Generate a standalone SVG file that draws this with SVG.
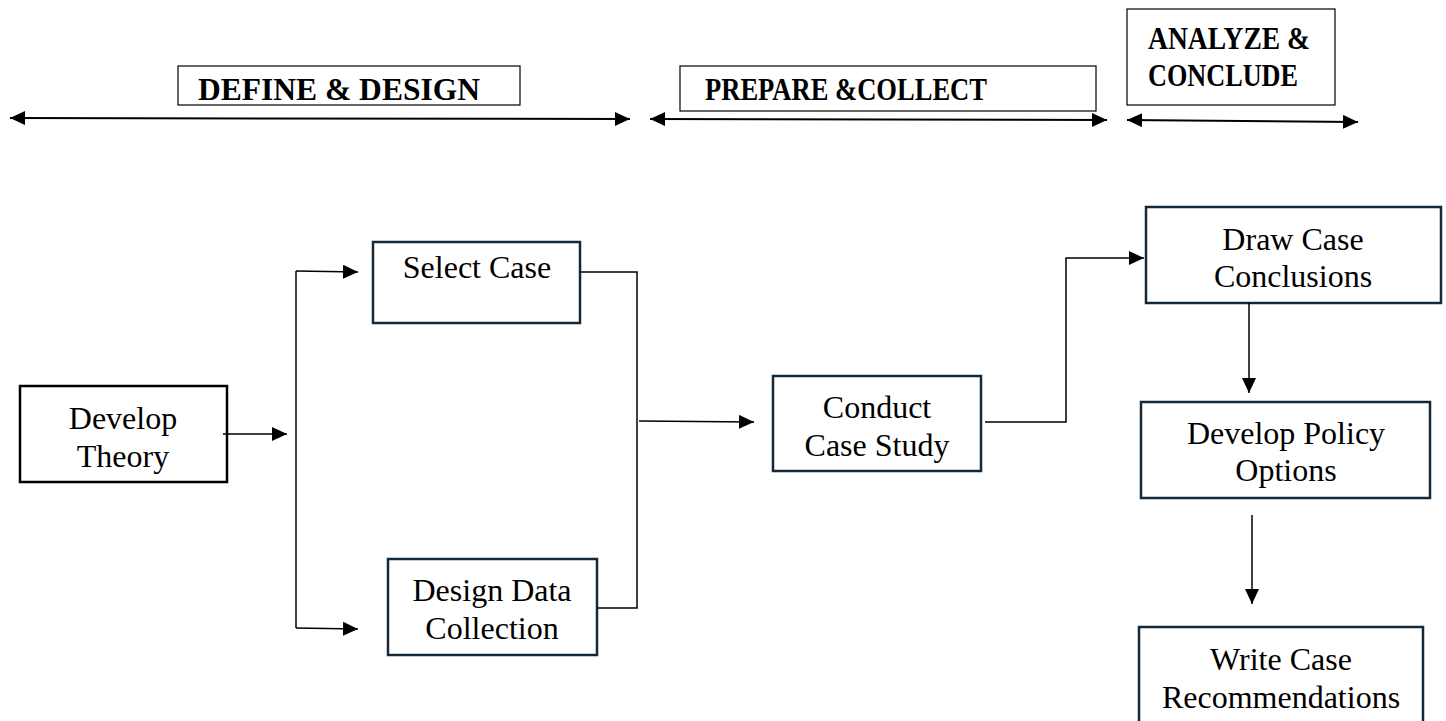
<svg xmlns="http://www.w3.org/2000/svg" width="1446" height="721" viewBox="0 0 1446 721">
<style>
.hbox{fill:#fff;stroke:#000;stroke-width:1.2}
.box{fill:#fff;stroke:#13293a;stroke-width:2.5}
.box0{fill:#fff;stroke:#000;stroke-width:2.5}
.ht{font-family:"Liberation Serif","Times New Roman",serif;font-weight:bold;font-size:31px;fill:#000}
.t{font-family:"Liberation Serif","Times New Roman",serif;font-size:32px;fill:#000;text-anchor:middle}
.c{fill:none;stroke:#000;stroke-width:1.5}
.hc{fill:none;stroke:#000;stroke-width:2}
</style>
<defs>
<marker id="ah" markerUnits="userSpaceOnUse" markerWidth="16" markerHeight="16" refX="15" refY="7" orient="auto">
<path d="M0,0 L15,7 L0,14 Z" fill="#000"/>
</marker>
<marker id="as" markerUnits="userSpaceOnUse" markerWidth="16" markerHeight="16" refX="15" refY="7" orient="auto-start-reverse">
<path d="M0,0 L15,7 L0,14 Z" fill="#000"/>
</marker>
</defs>
<rect width="1446" height="721" fill="#fff"/>

<g id="phase-define">
<rect class="hbox" x="178" y="66" width="342" height="39"/>
<text class="ht" x="339" y="100" text-anchor="middle" textLength="282" lengthAdjust="spacingAndGlyphs">DEFINE &amp; DESIGN</text>
</g>
<g id="phase-prepare">
<rect class="hbox" x="680" y="66" width="416" height="45"/>
<text class="ht" x="846" y="100" text-anchor="middle" textLength="282" lengthAdjust="spacingAndGlyphs">PREPARE &amp;COLLECT</text>
</g>
<g id="phase-analyze">
<rect class="hbox" x="1127" y="9" width="208" height="96"/>
<text class="ht" x="1148" y="49" textLength="162" lengthAdjust="spacingAndGlyphs">ANALYZE &amp;</text>
<text class="ht" x="1148" y="86" textLength="150" lengthAdjust="spacingAndGlyphs">CONCLUDE</text>
</g>

<g id="n-develop-theory">
<rect class="box0" x="20" y="386" width="207" height="96"/>
<text class="t" x="123" y="429">Develop</text>
<text class="t" x="123" y="467">Theory</text>
</g>
<g id="n-select-case">
<rect class="box" x="373" y="242" width="207" height="81"/>
<text class="t" x="477" y="278">Select Case</text>
</g>
<g id="n-design-data">
<rect class="box" x="388" y="559" width="209" height="96"/>
<text class="t" x="492" y="601">Design Data</text>
<text class="t" x="492" y="639">Collection</text>
</g>
<g id="n-conduct">
<rect class="box" x="773" y="376" width="208" height="95"/>
<text class="t" x="877" y="418">Conduct</text>
<text class="t" x="877" y="456">Case Study</text>
</g>
<g id="n-draw">
<rect class="box" x="1146" y="207" width="295" height="96"/>
<text class="t" x="1293" y="250">Draw Case</text>
<text class="t" x="1293" y="287">Conclusions</text>
</g>
<g id="n-policy">
<rect class="box" x="1141" y="402" width="289" height="96"/>
<text class="t" x="1286" y="444">Develop Policy</text>
<text class="t" x="1286" y="481">Options</text>
</g>
<g id="n-write">
<rect class="box" x="1139" y="627" width="284" height="100"/>
<text class="t" x="1281" y="670">Write Case</text>
<text class="t" x="1281" y="708">Recommendations</text>
</g>

<g id="connectors">
<line class="hc" x1="10" y1="118" x2="630" y2="119" marker-start="url(#as)" marker-end="url(#as)"/>
<line class="hc" x1="650" y1="119" x2="1107" y2="120" marker-start="url(#as)" marker-end="url(#as)"/>
<line class="hc" x1="1127" y1="120" x2="1358" y2="122" marker-start="url(#as)" marker-end="url(#as)"/>

<line class="c" x1="223" y1="434" x2="287" y2="434" marker-end="url(#ah)"/>
<polyline class="c" points="296,271 296,628"/>
<polyline class="c" points="296,271 358,272" marker-end="url(#ah)"/>
<polyline class="c" points="296,628 358,629" marker-end="url(#ah)"/>
<polyline class="c" points="580,272 637,272 637,608 597,608"/>
<line class="c" x1="639" y1="421" x2="754" y2="422" marker-end="url(#ah)"/>
<polyline class="c" points="985,422 1066,422 1066,258 1144,258" marker-end="url(#ah)"/>
<line class="c" x1="1249" y1="303" x2="1249" y2="393" marker-end="url(#ah)"/>
<line class="c" x1="1252" y1="515" x2="1252" y2="604" marker-end="url(#ah)"/>
</g>
</svg>
